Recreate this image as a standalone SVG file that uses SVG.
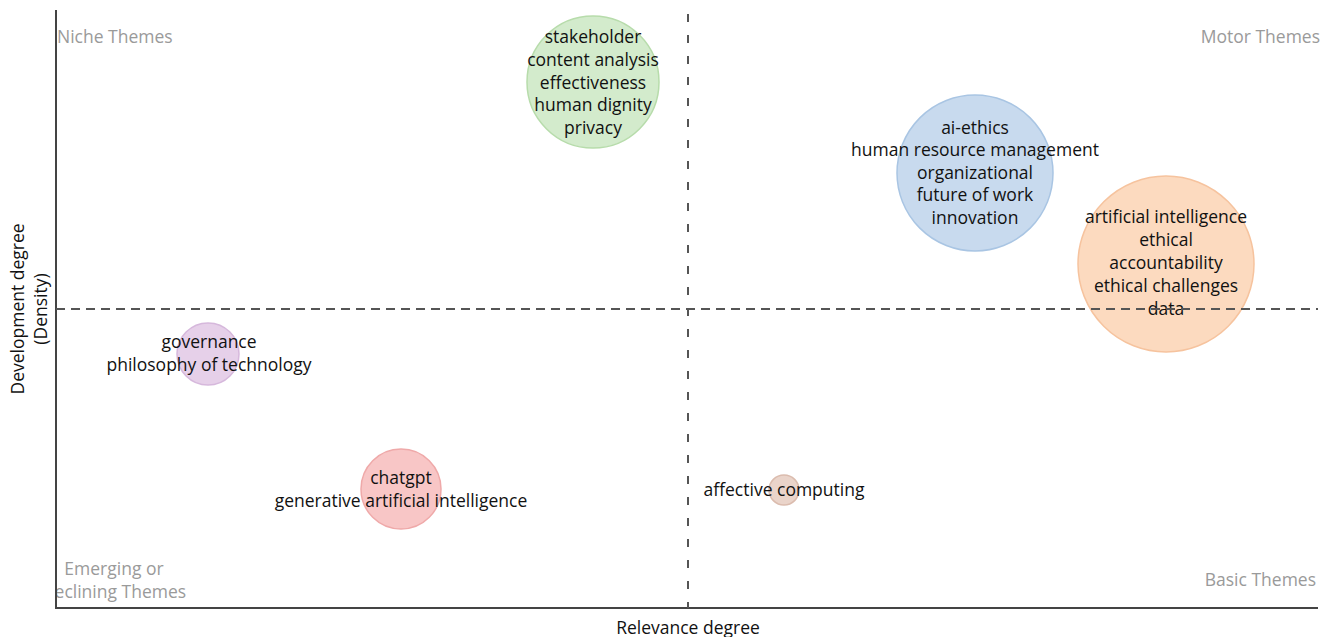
<svg xmlns="http://www.w3.org/2000/svg" width="1337" height="637" viewBox="0 0 1337 637">
<defs>
<style>
text{font-family:"Open Sans","Noto Sans","Liberation Sans",sans-serif;}
.lbl{font-size:17.5px;fill:#111;text-anchor:middle;dominant-baseline:central;}
.quad{font-size:17.5px;fill:#9a9a9a;dominant-baseline:central;}
.axt{font-size:17.5px;fill:#111;text-anchor:middle;dominant-baseline:central;}
.axis{stroke:#444;stroke-width:2;fill:none;}
.dash{stroke:#555;stroke-width:2;fill:none;}
</style>
<clipPath id="plot"><rect x="57" y="0" width="1280" height="608"/></clipPath>
</defs>
<rect width="1337" height="637" fill="#fff"/>
<g id="axes">
<line class="axis" x1="56" y1="10" x2="56" y2="609"/>
<line class="axis" x1="55" y1="608" x2="1318" y2="608"/>
<text class="axt" x="688" y="627">Relevance degree</text>
<text class="axt" transform="translate(17,309) rotate(-90)">Development degree</text>
<text class="axt" transform="translate(40,309) rotate(-90)">(Density)</text>
</g>
<g id="quadrant-labels">
<text class="quad" x="57" y="36">Niche Themes</text>
<text class="quad" x="1320" y="36" text-anchor="end">Motor Themes</text>
<text class="quad" x="1316" y="579" text-anchor="end">Basic Themes</text>
<g clip-path="url(#plot)">
<text class="quad" x="114" y="568" text-anchor="middle">Emerging or</text>
<text class="quad" x="114" y="591" text-anchor="middle">Declining Themes</text>
</g>
</g>
<g id="node-green">
<circle cx="593" cy="82" r="66" fill="#d3ebcc" stroke="#b7dcab" stroke-width="1.5"/>
<text class="lbl" x="593" y="36">stakeholder</text>
<text class="lbl" x="593" y="59">content analysis</text>
<text class="lbl" x="593" y="82">effectiveness</text>
<text class="lbl" x="593" y="104">human dignity</text>
<text class="lbl" x="593" y="127">privacy</text>
</g>
<g id="node-blue">
<circle cx="975" cy="173" r="78" fill="#c8daee" stroke="#a9c5e3" stroke-width="1.5"/>
<text class="lbl" x="975" y="127">ai-ethics</text>
<text class="lbl" x="975" y="149">human resource management</text>
<text class="lbl" x="975" y="172">organizational</text>
<text class="lbl" x="975" y="194">future of work</text>
<text class="lbl" x="975" y="217">innovation</text>
</g>
<g id="node-purple">
<circle cx="208" cy="354" r="31" fill="#e6d0e9" stroke="#d6b8dc" stroke-width="1.5"/>
<text class="lbl" x="209" y="341">governance</text>
<text class="lbl" x="209" y="364">philosophy of technology</text>
</g>
<g id="node-red">
<circle cx="401" cy="489" r="40" fill="#f8c6c6" stroke="#efa9a9" stroke-width="1.5"/>
<text class="lbl" x="401" y="477">chatgpt</text>
<text class="lbl" x="401" y="500">generative artificial intelligence</text>
</g>
<g id="node-brown">
<circle cx="784" cy="490" r="15" fill="#ead4ca" stroke="#dbbcae" stroke-width="1.5"/>
<text class="lbl" x="784" y="489">affective computing</text>
</g>
<g id="node-orange">
<circle cx="1166" cy="264" r="88" fill="#fcdabf" stroke="#f6c39e" stroke-width="1.5"/>
<text class="lbl" x="1166" y="216">artificial intelligence</text>
<text class="lbl" x="1166" y="239">ethical</text>
<text class="lbl" x="1166" y="262">accountability</text>
<text class="lbl" x="1166" y="285">ethical challenges</text>
<text class="lbl" x="1166" y="308">data</text>
</g>
<g id="connectors">
<line class="dash" x1="688" y1="14" x2="688" y2="608" stroke-dasharray="8 13"/>
<line class="dash" x1="56" y1="309" x2="1318" y2="309" stroke-dasharray="9 6"/>
</g>
</svg>
